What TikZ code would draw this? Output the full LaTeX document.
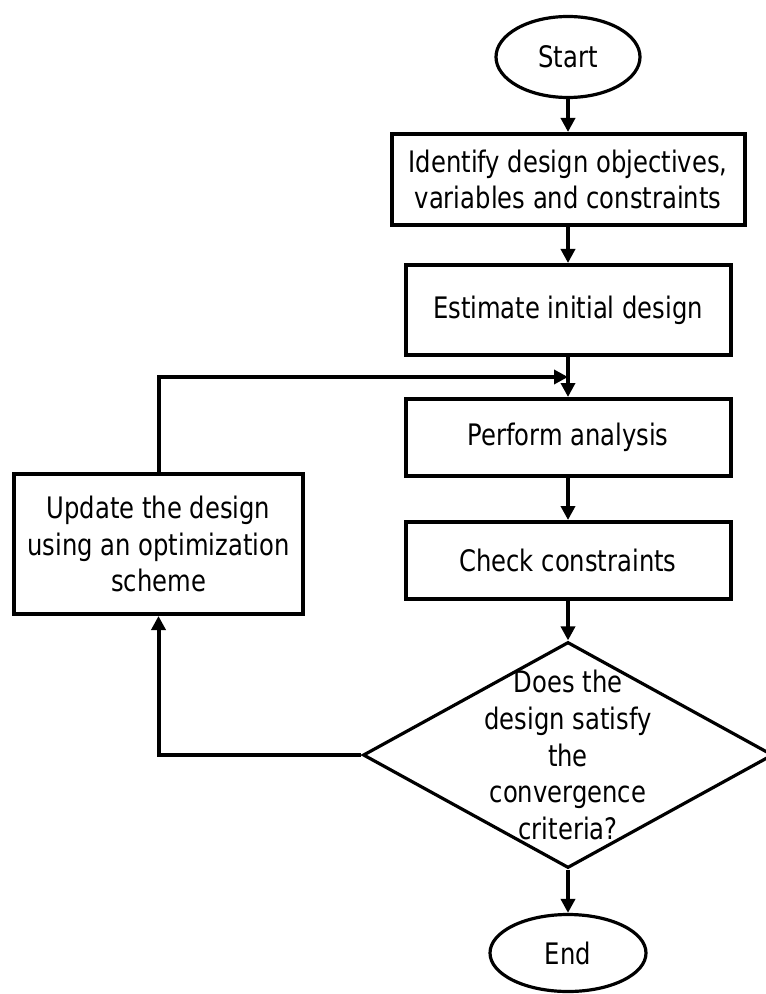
\documentclass[tikz,border=0pt]{standalone}
\usepackage{fontspec}
\setmainfont[FakeStretch=0.82]{DejaVu Sans}
\usetikzlibrary{shapes.geometric,arrows.meta,calc}

\begin{document}
\begin{tikzpicture}[x=0.5pt,y=-0.5pt,
	every node/.style={font=\fontsize{14.8}{18.3}\selectfont, align=center},
	terminal/.style={draw, ellipse, line width=1.6pt, inner sep=0pt},
	process/.style={draw, rectangle, line width=2pt, inner sep=0pt},
	decision/.style={draw, diamond, line width=1.6pt, inner sep=0pt},
	flow/.style={line width=1.8pt, -{Triangle[length=7pt,width=7pt]}}]
	\def\boxwidth{162.5pt}
	\def\midx{568}

	\useasboundingbox (0,0) rectangle (765,994);

	\node[terminal, minimum width=72pt, minimum height=40.5pt] (start) at (\midx,57) {Start};
	\node[process, minimum width=176.5pt, minimum height=45.5pt] (ident) at (\midx,179.5) {Identify design objectives,\\variables and constraints};
	\node[process, minimum width=\boxwidth, minimum height=45pt] (estimate) at (\midx,310) {Estimate initial design};
	\node[process, minimum width=\boxwidth, minimum height=38.5pt] (perform) at (\midx,437.5) {Perform analysis};
	\node[process, minimum width=\boxwidth, minimum height=38.5pt] (check) at (\midx,560.5) {Check constraints};
	\node[decision, minimum width=205pt, minimum height=113pt] (converge) at (\midx,755) {};
	\node (question) at (converge) {Does the\\design satisfy\\the\\convergence\\criteria?};
	\node[terminal, minimum width=78pt, minimum height=38.5pt] (finish) at (\midx,953) {End};
	\node[process, minimum width=144.5pt, minimum height=70pt] (update) at (158.5,544) {Update the design\\using an optimization\\scheme};

	\coordinate (merge) at ($(estimate.south)!0.5!(perform.north)$);

	\draw[flow] (start) -- (ident);
	\draw[flow] (ident) -- (estimate);
	\draw[flow] (estimate) -- (perform);
	\draw[flow] (perform) -- (check);
	\draw[flow] (check) -- (converge);
	\draw[flow] (converge) -- (finish);
	\draw[flow, line width=2pt] (converge.west) -| (update);
	\draw[flow, line width=2pt] (update) |- (merge);
\end{tikzpicture}
\end{document}
